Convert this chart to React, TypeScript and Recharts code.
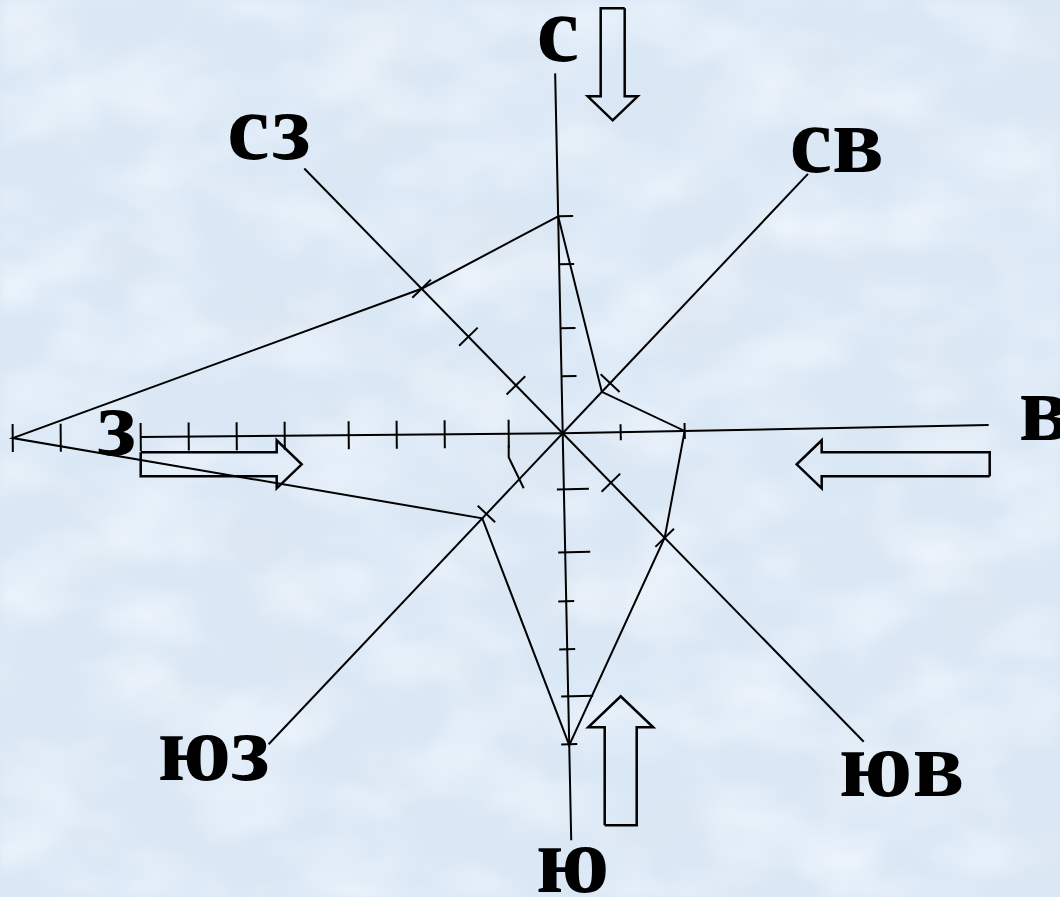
import React from "react";
import { ScatterChart, Scatter, XAxis, YAxis, ReferenceLine } from "recharts";

// compass points, clockwise from north
const DIRECTIONS = ["с", "св", "в", "юв", "ю", "юз", "з", "сз"];
// wind rose value per direction (1 unit = 10 px of the drawing)
const ROSE_VALUES = [21.7, 5.7, 12.2, 14.6, 31.2, 11.7, 55.0, 20.2];
// length of each axis ray
const AXIS_LENGTHS = [36.0, 35.7, 42.6, 43.1, 40.7, 42.8, 42.2, 37.0];
// tick marks along each ray
const TICKS_N = [5.7, 10.5, 16.9, 21.7];
const TICKS_NE = [6.9];
const TICKS_E = [5.8, 12.2];
const TICKS_SE = [6.9, 14.6];
const TICKS_S = [5.6, 11.9, 16.8, 21.6, 26.3, 31.1];
const TICKS_SW = [11.1];
const TICKS_W = [5.4, 11.8, 16.6, 21.4, 27.8, 32.6, 37.4, 42.2, 50.2, 55.0];
const TICKS_NW = [6.7, 13.5, 20.2];
const LONG_TICKS_S = [5.6, 11.9, 26.3];
// small stroke below the first west tick (calm mark)
const CALM_MARK = [
  { x: -5.4, y: -1.2 },
  { x: -5.4, y: -2.4 },
  { x: -3.9, y: -5.5 },
];

// ---- layout ----
const WIDTH = 1060;
const HEIGHT = 897;
const X_DOMAIN = [-56.27, 49.73];
const Y_DOMAIN = [-46.37, 43.33];
// the hand-drawn rays are a little off the exact compass bearings
const BEARINGS = [358.8, 43.4, 88.9, 135.7, 178.8, 223.4, 269.5, 315.7];
const TICK_SPANS = [
  [0, 1.5],
  [-1.3, 1.3],
  [-0.8, 0.8],
  [-1.3, 1.3],
  [-0.8, 0.8],
  [-1.2, 1.2],
  [-1.4, 1.4],
  [-1.3, 1.3],
];
const LONG_TICK_SPAN = [-2.5, 0.7];
const LABEL_POSITIONS = [
  { x: -0.5, y: 37.2 },
  { x: 27.4, y: 26.1 },
  { x: 48.2, y: -0.7 },
  { x: 33.9, y: -36.3 },
  { x: 1.0, y: -45.9 },
  { x: -34.9, y: -34.7 },
  { x: -44.6, y: -2.2 },
  { x: -29.4, y: 27.4 },
];
const ARROWS = [
  { tail: { x: 5.0, y: 42.5 }, tip: { x: 5.0, y: 31.3 }, shaft: 1.2, head: 2.5, headLen: 2.4 },
  { tail: { x: 5.8, y: -39.2 }, tip: { x: 5.8, y: -26.3 }, shaft: 1.6, head: 3.25, headLen: 3.1 },
  { tail: { x: -42.2, y: -3.1 }, tip: { x: -26.1, y: -3.1 }, shaft: 1.2, head: 2.4, headLen: 2.5 },
  { tail: { x: 42.7, y: -3.1 }, tip: { x: 23.4, y: -3.1 }, shaft: 1.2, head: 2.4, headLen: 2.5 },
];

const TICKS = [TICKS_N, TICKS_NE, TICKS_E, TICKS_SE, TICKS_S, TICKS_SW, TICKS_W, TICKS_NW];

const rad = (deg: number) => (deg * Math.PI) / 180;
const polar = (d: number, bearing: number) => ({
  x: d * Math.sin(rad(bearing)),
  y: d * Math.cos(rad(bearing)),
});

const rosePoints = ROSE_VALUES.map((v, i) => polar(v, BEARINGS[i]));
const roseData = [...rosePoints, rosePoints[0]];

const axisSegments = AXIS_LENGTHS.map((len, i) => [{ x: 0, y: 0 }, polar(len, BEARINGS[i])]);

const tickSegments = TICKS.flatMap((list, i) =>
  list.map((d) => {
    const b = BEARINGS[i];
    const p = polar(d, b);
    const px = Math.cos(rad(b));
    const py = -Math.sin(rad(b));
    const span = i === 4 && LONG_TICKS_S.includes(d) ? LONG_TICK_SPAN : TICK_SPANS[i];
    return [
      { x: p.x + px * span[0], y: p.y + py * span[0] },
      { x: p.x + px * span[1], y: p.y + py * span[1] },
    ];
  })
);

const arrowOutlines = ARROWS.map(({ tail, tip, shaft, head, headLen }) => {
  const dx = tip.x - tail.x;
  const dy = tip.y - tail.y;
  const len = Math.hypot(dx, dy);
  const ux = dx / len;
  const uy = dy / len;
  const vx = -uy;
  const vy = ux;
  const base = { x: tip.x - ux * headLen, y: tip.y - uy * headLen };
  const pts = [
    { x: tail.x + vx * shaft, y: tail.y + vy * shaft },
    { x: base.x + vx * shaft, y: base.y + vy * shaft },
    { x: base.x + vx * head, y: base.y + vy * head },
    { x: tip.x, y: tip.y },
    { x: base.x - vx * head, y: base.y - vy * head },
    { x: base.x - vx * shaft, y: base.y - vy * shaft },
    { x: tail.x - vx * shaft, y: tail.y - vy * shaft },
  ];
  return [...pts, pts[0]];
});

const labelData = DIRECTIONS.map((name, i) => ({ name, ...LABEL_POSITIONS[i] }));

const renderNothing = () => <g />;

const renderLabel = (props: any) => (
  <text
    x={props.cx}
    y={props.cy}
    textAnchor="middle"
    fontFamily="'Liberation Serif', 'Times New Roman', serif"
    fontWeight="bold"
    fontSize={96}
    fill="#000"
  >
    {props.payload.name}
  </text>
);

function Background() {
  return (
    <svg width={WIDTH} height={HEIGHT} style={{ position: "absolute", left: 0, top: 0 }}>
      <defs>
        <filter id="darkNoise" x="0" y="0" width="100%" height="100%">
          <feTurbulence type="fractalNoise" baseFrequency="0.009 0.014" numOctaves={3} seed={4} />
          <feColorMatrix
            type="matrix"
            values="0 0 0 0 0.72  0 0 0 0 0.79  0 0 0 0 0.87  1.3 0 0 0 -0.55"
          />
          <feGaussianBlur stdDeviation={3} />
        </filter>
        <filter id="lightNoise" x="0" y="0" width="100%" height="100%">
          <feTurbulence type="fractalNoise" baseFrequency="0.01 0.016" numOctaves={3} seed={11} />
          <feColorMatrix
            type="matrix"
            values="0 0 0 0 0.91  0 0 0 0 0.96  0 0 0 0 1  1.4 0 0 0 -0.55"
          />
          <feGaussianBlur stdDeviation={3} />
        </filter>
      </defs>
      <rect width={WIDTH} height={HEIGHT} fill="#dae7f5" />
      <rect width={WIDTH} height={HEIGHT} filter="url(#darkNoise)" />
      <rect width={WIDTH} height={HEIGHT} filter="url(#lightNoise)" />
    </svg>
  );
}

export default function App() {
  return (
    <div style={{ position: "absolute", left: 0, top: 0, width: WIDTH, height: HEIGHT, overflow: "hidden" }}>
      <Background />
      <div style={{ position: "absolute", left: 0, top: 0 }}>
        <ScatterChart width={WIDTH} height={HEIGHT} margin={{ top: 0, right: 0, bottom: 0, left: 0 }}>
          <XAxis type="number" dataKey="x" domain={X_DOMAIN} allowDataOverflow hide />
          <YAxis type="number" dataKey="y" domain={Y_DOMAIN} allowDataOverflow hide />

          {axisSegments.map((seg, i) => (
            <ReferenceLine key={`axis-${i}`} segment={seg} stroke="#000" strokeWidth={2} ifOverflow="visible" />
          ))}
          {tickSegments.map((seg, i) => (
            <ReferenceLine key={`tick-${i}`} segment={seg} stroke="#000" strokeWidth={2} ifOverflow="visible" />
          ))}

          <Scatter
            data={roseData}
            line={{ stroke: "#000", strokeWidth: 2 }}
            lineType="joint"
            shape={renderNothing}
            stroke="#000"
            isAnimationActive={false}
          />
          <Scatter
            data={CALM_MARK}
            line={{ stroke: "#000", strokeWidth: 2 }}
            lineType="joint"
            shape={renderNothing}
            stroke="#000"
            isAnimationActive={false}
          />
          {arrowOutlines.map((pts, i) => (
            <Scatter
              key={`arrow-${i}`}
              data={pts}
              line={{ stroke: "#000", strokeWidth: 2.5, strokeLinejoin: "miter" }}
              lineType="joint"
              shape={renderNothing}
              stroke="#000"
              isAnimationActive={false}
            />
          ))}
          <Scatter data={labelData} shape={renderLabel} isAnimationActive={false} />
        </ScatterChart>
      </div>
    </div>
  );
}
